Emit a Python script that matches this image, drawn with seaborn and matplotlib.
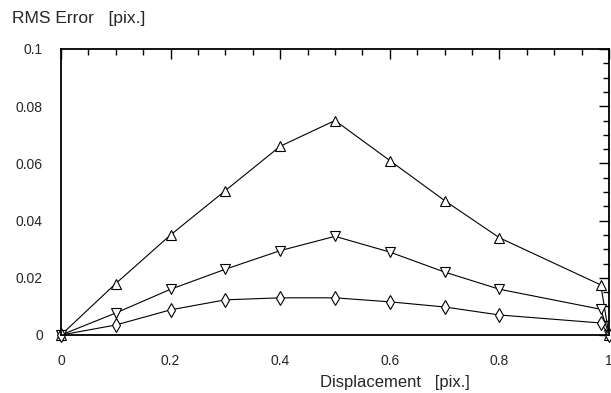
import matplotlib.pyplot as plt
import matplotlib.ticker as mticker
import seaborn as sns

# data
x = [0, 0.1, 0.2, 0.3, 0.4, 0.5, 0.6, 0.7, 0.8, 0.985, 1.0]
err_up = [0, 0.018, 0.035, 0.0505, 0.066, 0.075, 0.061, 0.047, 0.034, 0.0175, 0]
err_down = [0, 0.0077, 0.016, 0.023, 0.0295, 0.0345, 0.029, 0.022, 0.016, 0.009, 0]
err_diam = [0, 0.0035, 0.0088, 0.0123, 0.013, 0.013, 0.0116, 0.0098, 0.007, 0.0042, 0]

x_ticks = [0, 0.2, 0.4, 0.6, 0.8, 1.0]
x_ticklabels = ['0', '0.2', '0.4', '0.6', '0.8', '1']
y_ticks = [0, 0.02, 0.04, 0.06, 0.08, 0.1]
y_ticklabels = ['0', '0.02', '0.04', '0.06', '0.08', '0.1']

sns.set_style('white')
plt.rcParams['font.family'] = ['Liberation Sans', 'DejaVu Sans']

fig = plt.figure(figsize=(6.11, 3.93), dpi=100)
ax = fig.add_axes([61 / 611, 1 - 335 / 393, 548 / 611, 286 / 393])

for ys, mk in [(err_up, '^'), (err_down, 'v'), (err_diam, 'd')]:
    sns.lineplot(x=x, y=ys, ax=ax, color='black', linewidth=0.8, marker=mk,
                 markersize=7, markerfacecolor='white', markeredgecolor='black',
                 markeredgewidth=0.8, sort=False, clip_on=False)

ax.set_xlim(0, 1)
ax.set_ylim(0, 0.1)
ax.set_xticks(x_ticks)
ax.set_xticklabels(x_ticklabels)
ax.set_yticks(y_ticks)
ax.set_yticklabels(y_ticklabels)
ax.xaxis.set_minor_locator(mticker.MultipleLocator(0.05))
ax.yaxis.set_minor_locator(mticker.MultipleLocator(0.005))
ax.tick_params(which='both', direction='in', top=True, right=True, labelsize=10,
               color='black', width=1)
ax.tick_params(which='major', length=7)
ax.tick_params(which='minor', length=4.3)
ax.tick_params(axis='y', pad=13)
ax.tick_params(axis='x', pad=14)
for sp in ax.spines.values():
    sp.set_color('black')
    sp.set_linewidth(1.3)

fig.text(12 / 611, 1 - 18 / 393, 'RMS Error   [pix.]', fontsize=12.5, va='center', ha='left')
fig.text(395 / 611, 1 - 382 / 393, 'Displacement   [pix.]', fontsize=12, va='center', ha='center')

fig.savefig('out.png', dpi=100)
